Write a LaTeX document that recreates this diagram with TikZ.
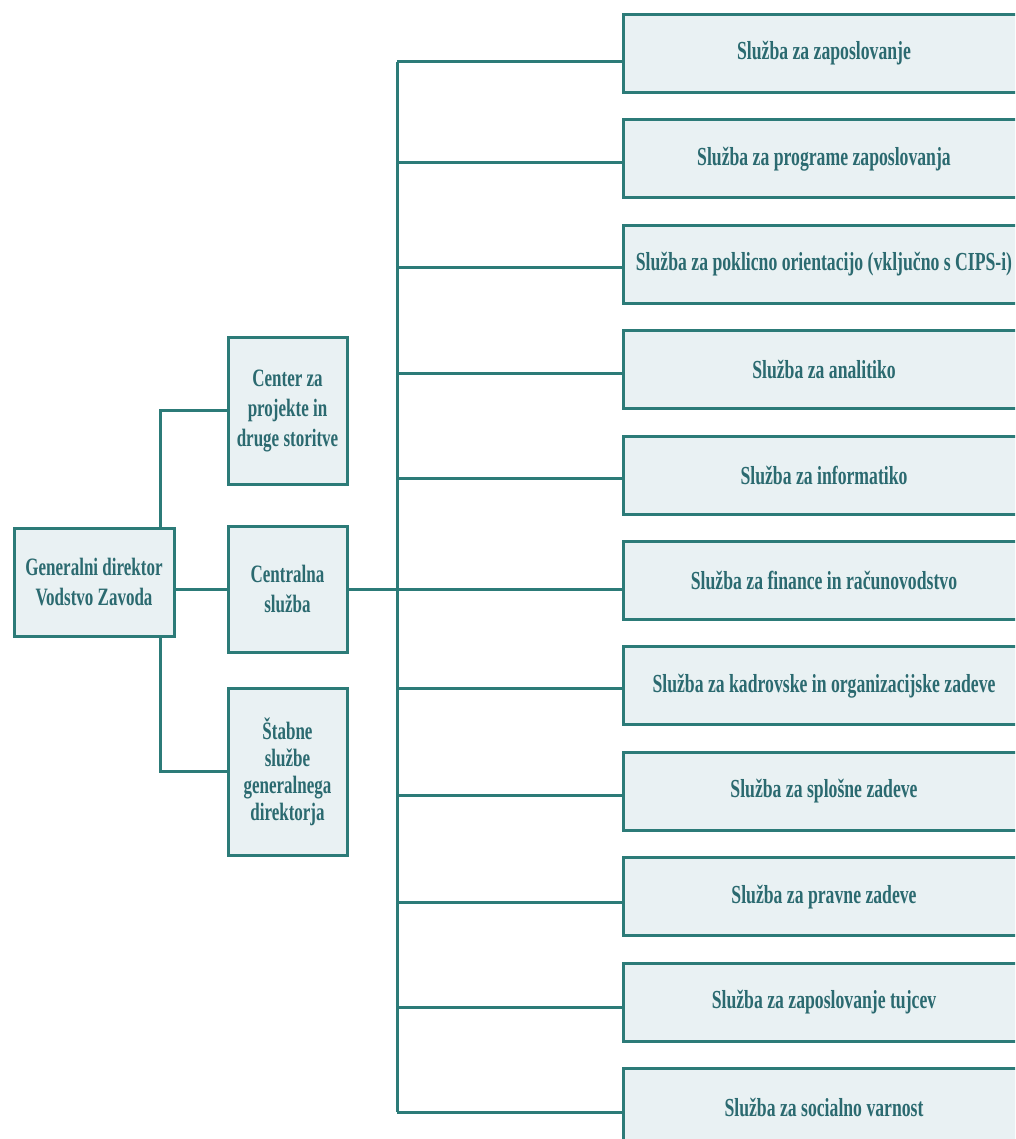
\documentclass[tikz,border=0pt]{standalone}
\usepackage{fontspec}
\setmainfont[FakeStretch=0.68]{Liberation Serif}
\definecolor{edge}{HTML}{2C7B78}
\definecolor{boxfill}{HTML}{E9F1F3}
\definecolor{txt}{HTML}{2B6A70}
\begin{document}
\begin{tikzpicture}[x=1pt,y=-1pt,
  box/.style={draw=edge,line width=3pt,fill=boxfill,text=txt,font=\bfseries\fontsize{25}{30}\selectfont,align=center,inner sep=0pt},
  svc/.style={box,font=\bfseries\fontsize{26}{30}\selectfont,minimum width=402pt,minimum height=78pt},
  mid/.style={box,minimum width=119pt},
  link/.style={draw=edge,line width=3pt}]
\useasboundingbox (0,0) rectangle (1015,1139);
\clip (0,0) rectangle (1015,1139);
\node[box,minimum width=160pt,minimum height=108pt] (gd) at (94,582) {Generalni direktor\\Vodstvo Zavoda};
\node[mid,minimum height=147pt] (cp) at (287.5,410.5) {Center za\\projekte in\\druge storitve};
\node[mid,minimum height=126pt] (cs) at (287.5,589) {Centralna\\služba};
\node[mid,minimum height=167pt,font=\bfseries\fontsize{25}{27}\selectfont] (st) at (287.5,771.5) {Štabne\\službe\\generalnega\\direktorja};
\foreach \i/\t in {1/Služba za zaposlovanje,2/Služba za programe zaposlovanja,3/Služba za poklicno orientacijo (vključno s CIPS-i),4/Služba za analitiko,5/Služba za informatiko,6/Služba za finance in računovodstvo,7/Služba za kadrovske in organizacijske zadeve,8/Služba za splošne zadeve,9/Služba za pravne zadeve,10/Služba za zaposlovanje tujcev,11/Služba za socialno varnost}{
  \node[svc] (s\i) at (824,{53.5+105.4*(\i-1)}) {\t};
}
\coordinate (lb) at (160,0);
\foreach \i/\y in {1/62,2/163,3/268,4/373,5/478,6/590,7/688,8/795,9/902,10/1007,11/1112}{
  \coordinate (j\i) at (397,\y);
}
\draw[link] (gd.north -| lb) |- (cp.west);
\draw[link] (gd.south -| lb) |- (st.west);
\draw[link] (gd.east |- cs.west) -- (cs.west);
\draw[link] (cs.east) -- (cs.east -| s6.west);
\draw[link] (j1) -- (j11);
\foreach \i in {1,2,3,4,5,7,8,9,10,11}{
  \draw[link] (j\i) -- (j\i -| s\i.west);
}
\end{tikzpicture}
\end{document}
